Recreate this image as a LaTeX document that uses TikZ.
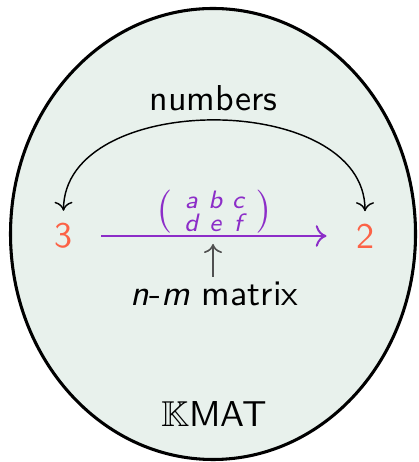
\documentclass[tikz,border=0pt]{standalone}
\usepackage{amsmath,amssymb}
\usetikzlibrary{arrows.meta}
\definecolor{setfill}{RGB}{232,241,236}
\definecolor{numcol}{RGB}{252,98,70}
\definecolor{arrcol}{RGB}{140,45,200}
\definecolor{ptrcol}{RGB}{80,80,80}
\newcommand{\mi}[1]{\text{\itshape #1}}
\begin{document}
\begin{tikzpicture}[x=0.2778pt,y=-0.2778pt,font=\sffamily,
  numnode/.style={text=numcol,inner sep=0pt},
  lbl/.style={inner sep=0pt,anchor=base},
  setshape/.style={draw=black,line width=0.85pt,fill=setfill},
  maparrow/.style={draw=arrcol,line width=0.55pt,-{To[length=3pt,width=6pt]},shorten <=7.8pt,shorten >=8pt},
  curvearrow/.style={draw=black,line width=0.4pt,{To[length=2.5pt,width=5pt]}-{To[length=2.5pt,width=5pt]},shorten <=3.3pt,shorten >=3.3pt},
  ptrarrow/.style={draw=ptrcol,line width=0.45pt,-{To[length=2.5pt,width=5pt]}}]
\useasboundingbox (0,0) rectangle (418,462);
\path[setshape] (213,234) ellipse [x radius=202.5, y radius=225.5];
\node[numnode] (three) at (63.5,236) {3};
\node[numnode] (two) at (365,236) {2};
\node[lbl] (numbers) at (213.5,111) {numbers};
\node[lbl] (kmat) at (214,426.7) {$\mathbb{K}$MAT};
\node[lbl] (nm) at (214.5,306) {\textit{n}-\textit{m} matrix};
\draw[maparrow] (three) -- (two) node[midway,above=0.6pt,text=arrcol,inner sep=0pt] (mat)
  {$\left(\,\begin{smallmatrix}\mi{a}&\mi{b}&\mi{c}\\ \mi{d}&\mi{e}&\mi{f}\end{smallmatrix}\,\right)$};
\coordinate (ptrtip) at (213,244);
\draw[ptrarrow] ([yshift=0pt]nm.north -| ptrtip) ++(0,-5) -- (ptrtip);
\draw[curvearrow] (three.north) to[out=90,in=90,looseness=1.13] (two.north);
\end{tikzpicture}
\end{document}
